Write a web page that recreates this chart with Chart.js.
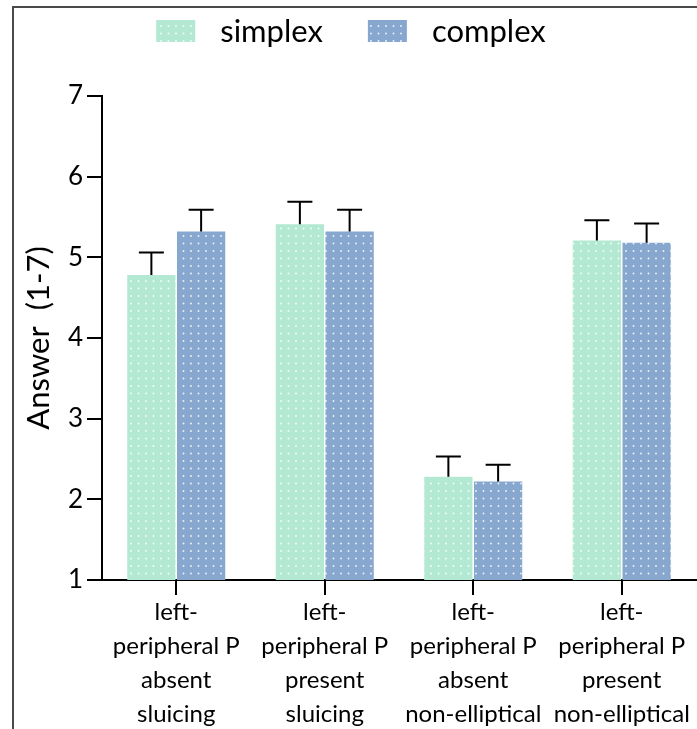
<!DOCTYPE html>
<html><head><meta charset="utf-8">
<script src="https://cdn.jsdelivr.net/npm/chart.js@4.4.0/dist/chart.umd.min.js"></script>
<style>
html,body{margin:0;padding:0;background:#fff;overflow:hidden;}
#wrap{position:relative;width:697px;height:729px;}
#frame{position:absolute;left:12px;top:6px;right:0;bottom:-4px;border-top:2px solid #4a4a4a;border-left:2px solid #4a4a4a;pointer-events:none;}
canvas{position:absolute;left:0;top:0;}
</style></head><body>
<div id="wrap"><canvas id="c" width="697" height="729"></canvas><div id="frame"></div></div>
<script>
const categories = [
  ["left-", "peripheral P", "absent", "sluicing"],
  ["left-", "peripheral P", "present", "sluicing"],
  ["left-", "peripheral P", "absent", "non-elliptical"],
  ["left-", "peripheral P", "present", "non-elliptical"]
];
const seriesNames = ["simplex", "complex"];
const simplexMeans = [4.78, 5.41, 2.28, 5.21];
const complexMeans = [5.32, 5.32, 2.22, 5.18];
const simplexErr = [0.28, 0.28, 0.25, 0.25];
const complexErr = [0.27, 0.27, 0.21, 0.24];
const yTicks = [1, 2, 3, 4, 5, 6, 7];
const yTitle = "Answer  (1-7)";

const FONT = "Lato, 'Noto Sans', sans-serif";

function dotPattern(base) {
  const t = document.createElement('canvas');
  t.width = 15; t.height = 15;
  const g = t.getContext('2d');
  g.fillStyle = base;
  g.fillRect(0, 0, 15, 15);
  g.fillStyle = 'rgba(255,255,255,0.85)';
  [[3.5, 3.5], [11, 3.5], [3.5, 11], [11, 11]].forEach(([x, y]) => {
    g.beginPath(); g.arc(x, y, 0.95, 0, Math.PI * 2); g.fill();
  });
  return document.getElementById('c').getContext('2d').createPattern(t, 'repeat');
}
const simplexFill = dotPattern('#b3e9d3');
const complexFill = dotPattern('#87a7cf');

const errorBars = {
  id: 'errorBars',
  afterDatasetsDraw(chart) {
    const ctx = chart.ctx;
    const ys = chart.scales.y;
    ctx.save();
    ctx.strokeStyle = '#000';
    ctx.lineWidth = 2;
    chart.data.datasets.forEach((ds, i) => {
      const meta = chart.getDatasetMeta(i);
      meta.data.forEach((bar, j) => {
        const top = ys.getPixelForValue(ds.data[j] + ds.errors[j]);
        ctx.beginPath();
        ctx.moveTo(bar.x, bar.y);
        ctx.lineTo(bar.x, top);
        ctx.moveTo(bar.x - 12.5, top);
        ctx.lineTo(bar.x + 12.5, top);
        ctx.stroke();
      });
    });
    ctx.restore();
  }
};

const customLegend = {
  id: 'customLegend',
  afterDraw(chart) {
    const ctx = chart.ctx;
    ctx.save();
    ctx.font = "31px " + FONT;
    const boxW = 39, boxH = 22, gap = 25, spacing = 45;
    const items = chart.data.datasets.map(ds => ({ ds, w: boxW + gap + ctx.measureText(ds.label).width }));
    const total = items.reduce((a, b) => a + b.w, 0) + spacing * (items.length - 1);
    let x = 351 - total / 2;
    const cy = 31;
    items.forEach(it => {
      ctx.fillStyle = it.ds.backgroundColor;
      ctx.fillRect(x, cy - boxH / 2, boxW, boxH);
      ctx.fillStyle = '#000';
      ctx.textBaseline = 'middle';
      ctx.textAlign = 'left';
      ctx.fillText(it.ds.label, x + boxW + gap, cy + 1);
      x += it.w + spacing;
    });
    ctx.restore();
  }
};

new Chart(document.getElementById('c'), {
  type: 'bar',
  data: {
    labels: categories,
    datasets: [
      { label: seriesNames[0], data: simplexMeans, errors: simplexErr, backgroundColor: simplexFill, borderWidth: 0 },
      { label: seriesNames[1], data: complexMeans, errors: complexErr, backgroundColor: complexFill, borderWidth: 0 }
    ]
  },
  options: {
    responsive: false,
    animation: false,
    devicePixelRatio: 1,
    categoryPercentage: 0.67,
    barPercentage: 0.97,
    layout: { padding: { top: 96, left: 0, right: 1, bottom: 0 } },
    plugins: { legend: { display: false }, tooltip: { enabled: false } },
    scales: {
      x: {
        grid: { offset: false, drawOnChartArea: false, tickLength: 15, color: '#000', lineWidth: 2 },
        border: { color: '#000', width: 2 },
        ticks: { color: '#000', font: { family: FONT, size: 24, lineHeight: 1.42 }, maxRotation: 0, autoSkip: false, padding: 0 },
        afterFit(s) { s.height = 149; }
      },
      y: {
        min: 1, max: 7,
        afterBuildTicks(s) { s.ticks = yTicks.map(v => ({ value: v })); },
        grid: { drawOnChartArea: false, tickLength: 15, color: '#000', lineWidth: 2 },
        border: { color: '#000', width: 2 },
        ticks: { color: '#000', font: { family: FONT, size: 26 }, padding: 4 },
        title: { display: true, text: yTitle, color: '#000', font: { family: FONT, size: 31 }, padding: { top: 20, bottom: 0 } },
        afterFit(s) { s.width = 102; }
      }
    }
  },
  plugins: [errorBars, customLegend]
});
</script>
</body></html>
